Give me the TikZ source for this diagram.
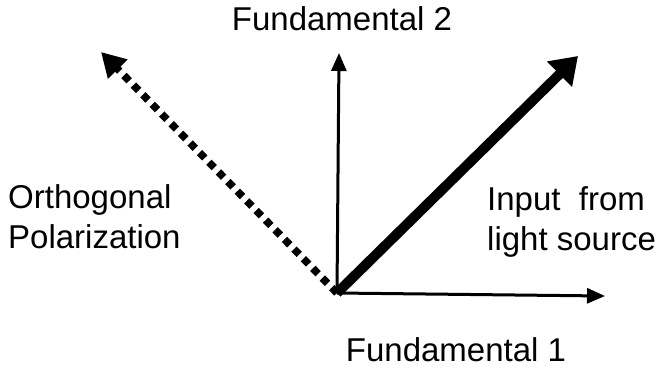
\documentclass[tikz,border=0pt]{standalone}
\usepackage{fontspec}
\setmainfont{Liberation Sans}
\usetikzlibrary{arrows.meta}
\begin{document}
\begin{tikzpicture}[x=1pt,y=-1pt,
  lbl/.style={font=\fontsize{33}{40}\selectfont, inner sep=0pt},
  thinarrow/.style={line width=3pt, -{Triangle[length=18pt,width=15pt]}},
  thickarrow/.style={line width=10pt, -{Triangle[length=26pt,width=34pt]}},
  dotarrow/.style={line width=7.5pt, dash pattern=on 7.5pt off 6pt, -{Triangle[length=24pt,width=26pt]}}]
\useasboundingbox (0,0) rectangle (656,368);
\coordinate (o) at (337,293);
\coordinate (f2) at (339,53);
\coordinate (f1) at (605,296);
\coordinate (in) at (578,56);
\coordinate (orth) at (101,52);
\draw[thinarrow] (o) -- (f2);
\draw[thinarrow] (o) -- (f1);
\draw[thickarrow] (o) -- (in);
\draw[dotarrow] (o) -- (orth);
\node[lbl, anchor=base] (t2) at (342,30) {Fundamental 2};
\node[lbl, anchor=base] (t1) at (456,361) {Fundamental 1};
\node[lbl, anchor=base west] (tor) at (8,208) {Orthogonal};
\node[lbl, anchor=base west] (tpo) at (8,248) {Polarization};
\node[lbl, anchor=base west] (tin) at (487,210) {Input\ \ from};
\node[lbl, anchor=base west] (tls) at (487,250) {light source};
\end{tikzpicture}
\end{document}
